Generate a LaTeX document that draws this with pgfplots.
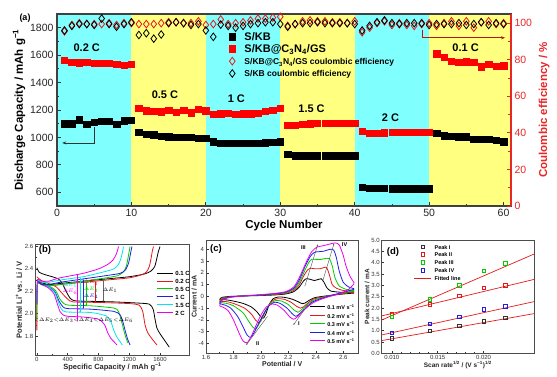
\documentclass[border=0pt]{standalone}
\usepackage{pgfplots}
\pgfplotsset{compat=1.18}
\usepackage{fontspec}
\setmainfont{Liberation Sans}
\usetikzlibrary{arrows.meta}
\definecolor{bandc}{RGB}{128,255,255}
\definecolor{bandy}{RGB}{255,255,128}
\definecolor{raxis}{RGB}{232,40,40}
\definecolor{colG}{RGB}{0,205,0}
\definecolor{colC}{RGB}{0,230,240}
\definecolor{colM}{RGB}{235,0,235}
\definecolor{colB}{RGB}{30,30,230}
\definecolor{colR}{RGB}{230,25,25}
\newcommand{\st}[2]{\rule[-#2]{0pt}{#1}}
\pgfplotsset{every axis/.append style={
  /pgf/number format/assume math mode=true,
  /pgf/number format/1000 sep={}}}
\begin{document}
\begin{tikzpicture}
\useasboundingbox (0pt,0pt) rectangle (557pt,376pt);
% ================= panel (a) left axis
\begin{axis}[
  at={(57pt,170pt)}, anchor=south west, width=454pt, height=192pt, scale only axis,
  xmin=0, xmax=61, ymin=500, ymax=1900, axis on top,
  xtick={0,10,...,60}, minor x tick num=1,
  ytick={600,800,...,1800}, minor y tick num=1,
  xtick pos=lower, ytick pos=left,
  tick style={line width=0.8pt, black!80},
  major tick length=4pt, minor tick length=2.5pt,
  axis line style={line width=1.1pt, black!75},
  ticklabel style={font=\fontsize{10.5}{12}\selectfont, black!85},
  xlabel={\textbf{Cycle Number}},
  ylabel={\textbf{Discharge Capacity / mAh g\textsuperscript{−1}}},
  label style={font=\fontsize{11.5}{13}\selectfont},
  xlabel style={yshift=4pt}, ylabel style={yshift=-2pt},
  legend cell align=left,
  legend style={draw=none, fill=none, at={(0.372,0.92)}, anchor=north west,
    nodes={inner sep=0pt}, row sep=2.3pt},
]
\fill[bandc] (0,500) rectangle (10,1900);
\fill[bandy] (10,500) rectangle (20,1900);
\fill[bandc] (20,500) rectangle (30,1900);
\fill[bandy] (30,500) rectangle (40,1900);
\fill[bandc] (40,500) rectangle (50,1900);
\fill[bandy] (50,500) rectangle (61,1900);
\addplot[only marks, mark=square*, mark size=3.2pt, black] coordinates {
(1,1100)(2,1100)(3,1128)(4,1098)(5,1112)(6,1118)(7,1118)(8,1095)(9,1122)(10,1124)
(11,1040)(12,1025)(13,1020)(14,1010)(15,1005)(16,1000)(17,1002)(18,1003)(19,995)(20,995)
(21,970)(22,960)(23,960)(24,960)(25,960)(26,960)(27,960)(28,962)(29,966)(30,968)
(31,876)(32,868)(33,868)(34,868)(35,867)(36,867)(37,867)(38,867)(39,866)(40,866)
(41,636)(42,628)(43,628)(44,628)(45,627)(46,627)(47,627)(48,627)(49,627)(50,627)
(51,1030)(52,1014)(53,1009)(54,1006)(55,1004)(56,988)(57,988)(58,988)(59,980)(60,968)};
\addlegendentry{\fontsize{11}{13}\selectfont\bfseries\st{12pt}{3.5pt}\hspace*{9pt}S/KB}
\addplot[only marks, mark=square*, mark size=3.2pt, red] coordinates {
(1,1562)(2,1548)(3,1545)(4,1548)(5,1540)(6,1540)(7,1543)(8,1535)(9,1528)(10,1535)
(11,1212)(12,1195)(13,1190)(14,1188)(15,1200)(16,1182)(17,1200)(18,1180)(19,1205)(20,1195)
(21,1168)(22,1172)(23,1175)(24,1170)(25,1172)(26,1172)(27,1176)(28,1190)(29,1200)(30,1212)
(31,1090)(32,1090)(33,1095)(34,1100)(35,1102)(36,1105)(37,1105)(38,1103)(39,1102)(40,1102)
(41,1046)(42,1031)(43,1033)(44,1035)(45,1036)(46,1036)(47,1037)(48,1038)(49,1040)(50,1040)
(51,1611)(52,1585)(53,1558)(54,1550)(55,1552)(56,1550)(57,1515)(58,1532)(59,1518)(60,1522)};
\addlegendentry{\fontsize{11}{13}\selectfont\bfseries\st{12pt}{3.5pt}\hspace*{9pt}S/KB@C\textsubscript{3}N\textsubscript{4}/GS}
\addlegendimage{only marks, mark=diamond, mark size=3.8pt, mark options={line width=0.8pt}, colR}
\addlegendentry{\fontsize{8.5}{10}\selectfont\bfseries\st{12pt}{3.5pt}\hspace*{9pt}S/KB@C\textsubscript{3}N\textsubscript{4}/GS coulombic efficiency}
\addlegendimage{only marks, mark=diamond, mark size=3.8pt, mark options={line width=0.8pt}, black}
\addlegendentry{\fontsize{8.5}{10}\selectfont\bfseries\st{12pt}{3.5pt}\hspace*{9pt}S/KB coulombic efficiency}
\draw[black!80, line width=0.6pt, -{Stealth[length=4pt,width=3pt]}] (5.05,1075) -- (5.05,960) -- (0.7,960);
\node[font=\fontsize{11}{13}\selectfont\bfseries] at (4.0,1657) {0.2 C};
\node[font=\fontsize{11}{13}\selectfont\bfseries] at (14.5,1315) {0.5 C};
\node[font=\fontsize{11}{13}\selectfont\bfseries] at (24.1,1281) {1 C};
\node[font=\fontsize{11}{13}\selectfont\bfseries] at (34.2,1206) {1.5 C};
\node[font=\fontsize{11}{13}\selectfont\bfseries] at (44.8,1144) {2 C};
\node[font=\fontsize{11}{13}\selectfont\bfseries] at (54.9,1653) {0.1 C};
\end{axis}
% ================= panel (a) right axis
\begin{axis}[
  at={(57pt,170pt)}, anchor=south west, width=454pt, height=192pt, scale only axis,
  xmin=0, xmax=61, ymin=0, ymax=105,
  axis x line=none, axis y line*=right,
  ytick={0,20,...,100}, minor y tick num=1,
  y axis line style={line width=1.1pt, raxis, -},
  ytick style={raxis, line width=0.8pt},
  major tick length=4pt, minor tick length=2.5pt,
  yticklabel style={raxis, font=\fontsize{10.5}{12}\selectfont},
  ylabel={\textbf{Coulombic efficiency / \%}},
  ylabel style={raxis, font=\fontsize{11.5}{13}\selectfont},
]
\addplot[only marks, mark=diamond, mark size=3.8pt, mark options={line width=0.8pt}, colR] coordinates {
(1,95.5)(2,99)(3,100)(4,99.5)(5,99.5)(6,99.5)(7,100)(8,99)(9,100)(10,100)
(11,99.5)(12,99.5)(13,99.5)(14,100)(15,100.5)(16,100.5)(17,100)(18,100)(19,101)(20,99)
(21,99.5)(22,102)(23,99.5)(24,100)(25,100.5)(26,101.5)(27,102.5)(28,102.5)(29,103)(30,103.5)
(31,98.5)(32,99.5)(33,101)(34,101.5)(35,101)(36,101)(37,100.5)(38,100.5)(39,100)(40,101)
(41,95)(42,97.5)(43,100)(44,101)(45,99)(46,100)(47,99)(48,98.5)(49,99.5)(50,100)
(51,98.5)(52,100)(53,101)(54,98.5)(55,101)(56,97.5)(57,100.5)(58,101)(59,99.5)(60,100)};
\addplot[only marks, mark=diamond, mark size=3.8pt, mark options={line width=0.8pt}, black] coordinates {
(1,96)(2,98.5)(3,99.5)(4,99.5)(5,99)(6,102.5)(7,99.5)(8,98)(9,99.5)(10,100.5)
(11,93.5)(12,94.5)(13,91.5)(14,93.8)(15,100)(16,100.5)(17,100)(18,99)(19,99.5)(20,96)
(21,92.5)(22,99.2)(23,98.5)(24,97.5)(25,98.5)(26,99.5)(27,100)(28,100.5)(29,100.5)(30,99.5)
(31,98)(32,99.5)(33,100)(34,100)(35,100.5)(36,100)(37,100)(38,100)(39,100)(40,99.5)
(41,96)(42,98.5)(43,100.5)(44,101.5)(45,100)(46,99.5)(47,100)(48,100)(49,100)(50,99)
(51,99.5)(52,99.5)(53,99.5)(54,100)(55,99)(56,99.5)(57,100.5)(58,99)(59,100)(60,99.5)};
\draw[colR!80!black, line width=0.6pt, -{Stealth[length=4pt,width=3pt]}] (49.1,96) -- (49.1,92) -- (60.2,92);
\end{axis}
\node[font=\fontsize{9}{10}\selectfont\bfseries] at (25pt,357.5pt) {(a)};
% ================= panel (b)
\begin{axis}[
  at={(35.7pt,21pt)}, anchor=south west, width=153.6pt, height=110.7pt, scale only axis,
  xmin=-15, xmax=1980, ymin=1.63, ymax=2.62,
  xtick={0,400,...,1600}, minor x tick num=1,
  ytick={1.8,2.0,...,2.6}, minor y tick num=1,
  xtick pos=lower, ytick pos=left,
  y tick label style={/pgf/number format/fixed,/pgf/number format/zerofill,/pgf/number format/precision=1},
  tick style={line width=0.5pt, black!80}, major tick length=2.5pt, minor tick length=1.5pt,
  axis line style={line width=0.6pt, black!70},
  ticklabel style={font=\fontsize{6}{7}\selectfont, black!80},
  xticklabel style={yshift=1.5pt}, yticklabel style={xshift=1pt},
  xlabel={\textbf{Specific Capacity / mAh g\textsuperscript{−1}}},
  ylabel={\textbf{Potential Li\textsuperscript{+} vs. Li / V}},
  label style={font=\fontsize{7.5}{8.5}\selectfont, black!85},
  xlabel style={yshift=5pt}, ylabel style={yshift=-4pt},
  legend cell align=left,
  legend style={draw=none, fill=none, at={(0.764,0.795)}, anchor=north west,
    nodes={inner sep=0pt}, row sep=0pt, font=\fontsize{6}{7}\selectfont\bfseries},
  legend image code/.code={\draw[#1, line width=1pt] (0pt,0pt) -- (16pt,0pt);},
  every axis plot/.append style={line width=0.8pt, smooth, tension=0.4},
]
% discharge
\addplot[black] coordinates {(0,2.41)(30,2.37)(100,2.35)(200,2.33)(280,2.31)(330,2.27)(380,2.20)(430,2.14)(490,2.115)(700,2.11)(1000,2.105)(1300,2.095)(1460,2.085)(1510,2.04)(1535,1.95)(1560,1.87)(1600,1.82)(1660,1.76)(1720,1.70)};
\addlegendentry{\st{8.9pt}{2.5pt}\hspace*{2pt}0.1 C}
\addplot[colR] coordinates {(0,2.33)(50,2.30)(150,2.27)(250,2.24)(330,2.18)(400,2.13)(470,2.105)(800,2.10)(1200,2.09)(1330,2.075)(1375,2.02)(1405,1.90)(1440,1.83)(1500,1.77)(1560,1.72)};
\addlegendentry{\st{8.9pt}{2.5pt}\hspace*{2pt}0.2 C}
\addplot[colG] coordinates {(0,2.31)(60,2.28)(150,2.25)(240,2.21)(300,2.13)(350,2.09)(420,2.075)(700,2.07)(1000,2.05)(1060,2.02)(1100,1.93)(1130,1.85)(1150,1.80)(1180,1.74)};
\addlegendentry{\st{8.9pt}{2.5pt}\hspace*{2pt}0.5 C}
\addplot[colB] coordinates {(0,2.30)(60,2.27)(150,2.24)(230,2.20)(290,2.11)(340,2.06)(400,2.045)(700,2.04)(1000,2.02)(1080,1.99)(1120,1.92)(1150,1.84)(1180,1.77)(1210,1.72)};
\addlegendentry{\st{8.9pt}{2.5pt}\hspace*{2pt}1 C}
\addplot[colC] coordinates {(0,2.29)(60,2.27)(150,2.24)(230,2.19)(280,2.10)(320,2.04)(380,2.015)(700,2.01)(900,1.98)(960,1.93)(1000,1.85)(1040,1.79)(1080,1.75)(1110,1.72)};
\addlegendentry{\st{8.9pt}{2.5pt}\hspace*{2pt}1.5 C}
\addplot[colM] coordinates {(0,2.28)(60,2.26)(150,2.23)(220,2.18)(260,2.10)(300,2.02)(350,1.985)(420,1.975)(600,1.97)(800,1.95)(880,1.90)(920,1.83)(960,1.78)(1000,1.75)(1040,1.72)};
\addlegendentry{\st{8.9pt}{2.5pt}\hspace*{2pt}2 C}
% charge
\addplot[black] coordinates {(0,2.08)(10,2.28)(50,2.28)(150,2.26)(300,2.27)(600,2.29)(900,2.31)(1200,2.33)(1400,2.355)(1480,2.38)(1530,2.42)(1560,2.50)(1580,2.56)(1600,2.60)};
\addplot[colR] coordinates {(0,1.85)(5,2.27)(50,2.27)(150,2.25)(300,2.26)(600,2.28)(900,2.30)(1200,2.32)(1350,2.345)(1420,2.37)(1460,2.42)(1485,2.50)(1500,2.56)(1515,2.60)};
\addplot[colG] coordinates {(0,1.95)(5,2.27)(60,2.26)(150,2.25)(300,2.26)(600,2.29)(900,2.32)(1050,2.34)(1120,2.37)(1160,2.42)(1185,2.50)(1200,2.56)(1211,2.60)};
\addplot[colB] coordinates {(0,2.10)(10,2.28)(60,2.26)(150,2.26)(300,2.28)(600,2.31)(900,2.34)(1080,2.36)(1150,2.39)(1190,2.45)(1212,2.52)(1226,2.57)(1235,2.60)};
\addplot[colC] coordinates {(0,2.10)(10,2.29)(60,2.28)(150,2.28)(300,2.30)(600,2.33)(850,2.37)(1000,2.40)(1060,2.44)(1095,2.50)(1115,2.56)(1125,2.60)};
\addplot[colM] coordinates {(0,2.10)(10,2.30)(60,2.29)(150,2.29)(300,2.32)(600,2.36)(800,2.40)(920,2.44)(990,2.48)(1030,2.53)(1050,2.57)(1060,2.60)};
% Delta E annotations
\draw[black!60, line width=0.4pt, {Stealth[length=1.5pt]}-{Stealth[length=1.5pt]}] (860,2.105) -- (860,2.305);
\draw[colR, line width=0.4pt, {Stealth[length=1.5pt]}-{Stealth[length=1.5pt]}] (760,2.10) -- (760,2.29);
\draw[colG, line width=0.4pt, {Stealth[length=1.5pt]}-{Stealth[length=1.5pt]}] (640,2.07) -- (640,2.29);
\draw[colB, line width=0.4pt, {Stealth[length=1.5pt]}-{Stealth[length=1.5pt]}] (600,2.04) -- (600,2.31);
\draw[colC, line width=0.4pt, {Stealth[length=1.5pt]}-{Stealth[length=1.5pt]}] (560,2.01) -- (560,2.33);
\draw[colM, line width=0.5pt] (520,1.93) -- (520,2.35);
\node[font=\fontsize{3.5}{4}\selectfont] at (950,2.21) {$\Delta E_1$};
\node[font=\fontsize{3.5}{4}\selectfont, colR] at (705,2.275) {$\Delta E_2$};
\node[font=\fontsize{3.5}{4}\selectfont, colG] at (705,2.215) {$\Delta E_3$};
\node[font=\fontsize{3.5}{4}\selectfont, colB] at (705,2.155) {$\Delta E_4$};
\node[font=\fontsize{3.5}{4}\selectfont, colC] at (430,2.255) {$\Delta E_5$};
\node[font=\fontsize{3.5}{4}\selectfont, colM] at (430,2.195) {$\Delta E_6$};
\node[font=\fontsize{3.5}{4}\selectfont] at (510,1.94) {$\Delta E_1{<}\Delta E_2{<}\Delta E_3{<}\Delta E_4{<}\Delta E_5{<}\Delta E_6$};
\end{axis}
\node[font=\fontsize{9.5}{10}\selectfont\bfseries] at (45pt,126pt) {(b)};
% ================= panel (c)
\begin{axis}[
  at={(206pt,22.7pt)}, anchor=south west, width=152.3pt, height=113.3pt, scale only axis,
  xmin=1.6, xmax=2.71, ymin=-4.85, ymax=4.8,
  xtick={1.6,1.8,...,2.6}, minor x tick num=1,
  ytick={-4,-3,...,4},
  xtick pos=lower, ytick pos=left,
  x tick label style={/pgf/number format/fixed,/pgf/number format/zerofill,/pgf/number format/precision=1},
  tick style={line width=0.5pt, black!80}, major tick length=2.5pt, minor tick length=1.5pt,
  axis line style={line width=0.6pt, black!70},
  ticklabel style={font=\fontsize{6}{7}\selectfont, black!80},
  xticklabel style={yshift=1.5pt}, yticklabel style={xshift=1.5pt},
  xlabel={\textbf{Potential / V}},
  ylabel={\textbf{Current / mA}},
  label style={font=\fontsize{7}{8}\selectfont, black!85},
  xlabel style={yshift=5pt}, ylabel style={yshift=-5pt},
  legend cell align=left,
  legend style={draw=none, fill=none, at={(0.657,0.466)}, anchor=north west,
    nodes={inner sep=0pt}, row sep=0pt, font=\fontsize{5.5}{6.5}\selectfont\bfseries},
  legend image code/.code={\draw[#1, line width=1pt] (0pt,0pt) -- (15pt,0pt);},
  every axis plot/.append style={line width=0.8pt, smooth, tension=0.4},
]
\addplot[black] coordinates {(2.68,0.28)(2.6,0.2)(2.52,0.1)(2.45,0.0)(2.39,-0.12)(2.35,-0.35)(2.32,-0.58)(2.30,-0.62)(2.27,-0.45)(2.23,-0.25)(2.18,-0.1)(2.13,-0.05)(2.09,-0.2)(2.06,-0.7)(2.04,-1.4)(2.02,-1.85)(2.00,-1.75)(1.97,-1.3)(1.93,-0.9)(1.87,-0.6)(1.8,-0.4)(1.75,-0.3)(1.70,-0.25)(1.72,-0.08)(1.78,0.0)(1.9,0.04)(2.0,0.07)(2.1,0.12)(2.18,0.2)(2.24,0.4)(2.28,0.8)(2.31,1.3)(2.33,1.5)(2.36,1.45)(2.39,1.35)(2.42,1.45)(2.44,1.5)(2.46,1.2)(2.48,0.75)(2.51,0.45)(2.58,0.35)(2.68,0.3)};
\addlegendentry{\st{10pt}{3pt}\hspace*{2pt}0.1 mV s\textsuperscript{−1}}
\addplot[colR] coordinates {(2.68,0.35)(2.6,0.25)(2.52,0.1)(2.45,-0.05)(2.38,-0.25)(2.34,-0.6)(2.31,-0.9)(2.29,-1.0)(2.26,-0.85)(2.22,-0.5)(2.17,-0.25)(2.12,-0.2)(2.08,-0.4)(2.05,-0.9)(2.02,-1.6)(2.0,-2.1)(1.985,-2.25)(1.96,-2.0)(1.93,-1.5)(1.88,-1.0)(1.8,-0.6)(1.75,-0.45)(1.70,-0.4)(1.72,-0.15)(1.78,-0.02)(1.9,0.05)(2.0,0.1)(2.1,0.15)(2.18,0.25)(2.24,0.5)(2.28,1.0)(2.31,1.7)(2.34,2.25)(2.36,2.4)(2.39,2.35)(2.43,2.35)(2.46,2.45)(2.48,2.45)(2.5,1.8)(2.52,1.0)(2.55,0.7)(2.6,0.5)(2.68,0.42)};
\addlegendentry{\st{10pt}{3pt}\hspace*{2pt}0.2 mV s\textsuperscript{−1}}
\addplot[colG] coordinates {(2.68,0.45)(2.6,0.3)(2.52,0.1)(2.45,-0.1)(2.38,-0.35)(2.33,-0.8)(2.29,-1.2)(2.27,-1.35)(2.24,-1.15)(2.2,-0.7)(2.15,-0.4)(2.11,-0.35)(2.07,-0.6)(2.03,-1.3)(2.0,-2.0)(1.98,-2.5)(1.96,-2.75)(1.94,-2.6)(1.91,-2.1)(1.87,-1.4)(1.8,-0.8)(1.75,-0.6)(1.70,-0.5)(1.72,-0.2)(1.78,-0.05)(1.9,0.05)(2.0,0.1)(2.1,0.2)(2.18,0.3)(2.24,0.6)(2.28,1.2)(2.32,2.2)(2.35,2.9)(2.37,3.15)(2.4,3.15)(2.44,3.15)(2.48,3.25)(2.5,3.2)(2.52,2.6)(2.54,1.6)(2.57,0.9)(2.62,0.6)(2.68,0.5)};
\addlegendentry{\st{10pt}{3pt}\hspace*{2pt}0.3 mV s\textsuperscript{−1}}
\addplot[colB] coordinates {(2.68,0.6)(2.6,0.35)(2.52,0.1)(2.45,-0.15)(2.38,-0.45)(2.33,-0.95)(2.28,-1.5)(2.255,-1.7)(2.23,-1.5)(2.19,-1.0)(2.14,-0.6)(2.1,-0.5)(2.06,-0.8)(2.02,-1.5)(1.98,-2.4)(1.95,-3.1)(1.925,-3.5)(1.9,-3.3)(1.87,-2.6)(1.83,-1.7)(1.78,-1.0)(1.74,-0.75)(1.70,-0.6)(1.72,-0.25)(1.78,-0.05)(1.9,0.06)(2.0,0.12)(2.1,0.22)(2.18,0.35)(2.24,0.7)(2.28,1.4)(2.32,2.5)(2.36,3.4)(2.39,3.75)(2.42,3.8)(2.46,3.85)(2.5,4.0)(2.53,3.95)(2.55,3.3)(2.57,2.2)(2.6,1.2)(2.64,0.8)(2.68,0.65)};
\addlegendentry{\st{10pt}{3pt}\hspace*{2pt}0.4 mV s\textsuperscript{−1}}
\addplot[colM] coordinates {(2.68,1.1)(2.64,0.6)(2.58,0.25)(2.52,0.05)(2.45,-0.2)(2.38,-0.55)(2.32,-1.1)(2.27,-1.7)(2.24,-1.95)(2.21,-1.75)(2.17,-1.2)(2.12,-0.75)(2.08,-0.65)(2.04,-0.9)(2.0,-1.6)(1.96,-2.6)(1.93,-3.4)(1.90,-3.95)(1.87,-3.8)(1.84,-3.1)(1.8,-2.0)(1.76,-1.2)(1.72,-0.9)(1.70,-0.8)(1.72,-0.3)(1.78,-0.08)(1.9,0.06)(2.0,0.15)(2.1,0.25)(2.18,0.4)(2.24,0.8)(2.28,1.6)(2.33,2.9)(2.37,3.8)(2.41,4.2)(2.45,4.3)(2.5,4.45)(2.54,4.55)(2.57,4.4)(2.6,3.5)(2.62,2.6)(2.65,1.7)(2.68,1.15)};
\addlegendentry{\st{10pt}{3pt}\hspace*{2pt}0.5 mV s\textsuperscript{−1}}
\draw[black!70, line width=0.4pt, -{Stealth[length=2pt]}] (2.048,-1.71) -- (1.893,-4.14);
\draw[black!70, line width=0.4pt, -{Stealth[length=2pt]}] (2.344,-0.71) -- (2.237,-2.43);
\draw[black!70, line width=0.4pt, -{Stealth[length=2pt]}] (2.32,0.86) -- (2.415,4.43);
\draw[black!70, line width=0.4pt, -{Stealth[length=2pt]}] (2.45,1.29) -- (2.533,4.49);
\node[font=\fontsize{5.5}{6}\selectfont\bfseries] at (1.977,-4.0) {II};
\node[font=\fontsize{5.5}{6}\selectfont\bfseries] at (2.277,-2.34) {I};
\node[font=\fontsize{5.5}{6}\selectfont\bfseries] at (2.31,4.14) {III};
\node[font=\fontsize{5.5}{6}\selectfont\bfseries] at (2.61,4.43) {IV};
\end{axis}
\node[font=\fontsize{9.5}{10}\selectfont\bfseries] at (216pt,127pt) {(c)};
% ================= panel (d)
\begin{axis}[
  at={(381.7pt,22.7pt)}, anchor=south west, width=152.3pt, height=113.3pt, scale only axis,
  xmin=0.0089, xmax=0.0255, ymin=0, ymax=5,
  xtick={0.010,0.015,0.020}, minor x tick num=4, scaled x ticks=false,
  ytick={0,0.5,...,5},
  xtick pos=lower, ytick pos=left,
  x tick label style={/pgf/number format/fixed,/pgf/number format/zerofill,/pgf/number format/precision=3},
  y tick label style={/pgf/number format/fixed,/pgf/number format/zerofill,/pgf/number format/precision=1},
  tick style={line width=0.5pt, black!80}, major tick length=2.5pt, minor tick length=1.5pt,
  axis line style={line width=0.6pt, black!70},
  ticklabel style={font=\fontsize{6}{7}\selectfont, black!80},
  xticklabel style={yshift=1.5pt}, yticklabel style={xshift=1.5pt},
  xlabel={\textbf{Scan rate\textsuperscript{1/2} / (V s\textsuperscript{−1})\textsuperscript{1/2}}},
  ylabel={\textbf{Peak current / mA}},
  label style={font=\fontsize{6.5}{7.5}\selectfont, black!85},
  xlabel style={yshift=5pt}, ylabel style={yshift=-5pt},
  legend cell align=left,
  legend style={draw=none, fill=none, at={(0.19,0.995)}, anchor=north west,
    nodes={inner sep=0pt}, row sep=0pt, font=\fontsize{5.5}{6.5}\selectfont\bfseries},
]
\addplot[only marks, mark=square, mark size=1.8pt, black!80] coordinates {(0.01,0.66)(0.01414,0.99)(0.01732,1.22)(0.02,1.41)(0.02236,1.57)};
\addlegendentry{\st{9pt}{2.7pt}\hspace*{3pt}Peak I}
\addplot[only marks, mark=square, mark size=1.8pt, colR] coordinates {(0.01,1.74)(0.01414,2.16)(0.01732,2.54)(0.02,2.90)(0.02236,3.01)};
\addlegendentry{\st{9pt}{2.7pt}\hspace*{3pt}Peak II}
\addplot[only marks, mark=square, mark size=1.8pt, colG] coordinates {(0.01,1.62)(0.01414,2.40)(0.01732,3.01)(0.02,3.65)(0.02236,3.97)};
\addlegendentry{\st{9pt}{2.7pt}\hspace*{3pt}Peak III}
\addplot[only marks, mark=square, mark size=1.8pt, colB] coordinates {(0.01,0.91)(0.01414,1.31)(0.01732,1.62)(0.02,1.94)(0.02236,2.09)};
\addlegendentry{\st{9pt}{2.7pt}\hspace*{3pt}Peak IV}
\addplot[colR, line width=0.7pt] coordinates {(0.0089,0.56)(0.0255,1.75)};
\addlegendentry{\st{9pt}{2.7pt}\hspace*{3pt}Fitted line}
\addplot[colR, line width=0.7pt, forget plot] coordinates {(0.0089,1.65)(0.0255,3.26)};
\addplot[colR, line width=0.7pt, forget plot] coordinates {(0.0089,1.47)(0.0255,4.38)};
\addplot[colR, line width=0.7pt, forget plot] coordinates {(0.0089,0.81)(0.0255,2.28)};
\end{axis}
\node[font=\fontsize{9.5}{10}\selectfont\bfseries] at (393pt,123.5pt) {(d)};
\end{tikzpicture}
\end{document}
